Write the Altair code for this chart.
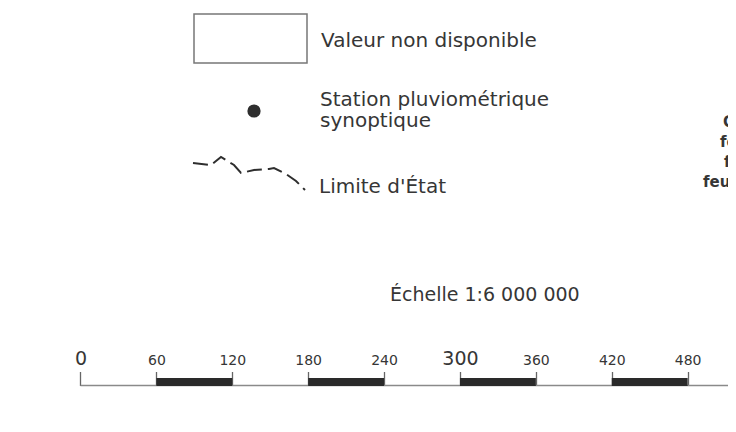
import altair as alt
import pandas as pd

W, H = 720, 416
FONT = "DejaVu Sans"
INK = "#363636"

# ---- data -------------------------------------------------------------
scale_ticks = [0, 60, 120, 180, 240, 300, 360, 420, 480]      # km
bar_start = [60, 180, 300, 420]                                 # black segments
bar_end = [120, 240, 360, 480]
scale_origin = [0]
scale_title = "Échelle 1:6 000 000"
km_domain = [-57.3, 511.9]                                      # visible span of the bar

legend_labels = ["Valeur non disponible", "Station pluviométrique", "synoptique", "Limite d'État"]
boundary_x = [185, 203, 208, 213, 221, 226, 233, 246, 261, 266, 278, 288, 297]
boundary_y = [155, 157, 153, 149, 154, 157, 165, 162, 161, 160, 166, 173, 182]
side_fragments = ["C", "fe", "f", "feui"]

one = alt.Data(values=[{}])
px_x = alt.Scale(domain=[0, W], range=[0, W], nice=False, zero=False)
px_y = alt.Scale(domain=[0, H], range=[0, H], nice=False, zero=False)
km = alt.Scale(domain=km_domain, nice=False, zero=False)


def label(text, x, y, size=20, weight="normal", color=INK):
    return alt.Chart(one).mark_text(
        text=text, font=FONT, fontSize=size, fontWeight=weight, color=color,
        align="left", baseline="alphabetic"
    ).encode(x=alt.value(x), y=alt.value(y))


# ---- legend -----------------------------------------------------------
box = alt.Chart(one).mark_rect(fill="white", stroke="#777777", strokeWidth=1.5).encode(
    x=alt.value(186), x2=alt.value(299), y=alt.value(6), y2=alt.value(55)
)
dot = alt.Chart(one).mark_point(filled=True, shape="circle", size=175, color="#2e2e2e", opacity=1).encode(
    x=alt.value(246), y=alt.value(103)
)
bdf = pd.DataFrame({"x": boundary_x, "y": boundary_y, "o": list(range(len(boundary_x)))})
boundary = alt.Chart(bdf).mark_line(color="#2e2e2e", strokeWidth=2, strokeDash=[15, 6]).encode(
    x=alt.X("x:Q", scale=px_x, axis=None),
    y=alt.Y("y:Q", scale=px_y, axis=None),
    order="o:O",
)

texts = [
    label(legend_labels[0], 313, 38.5),
    label(legend_labels[1], 312, 97.5),
    label(legend_labels[2], 312, 118.5),
    label(legend_labels[3], 311, 185),
    label(scale_title, 382, 293, size=19),
    label(side_fragments[0], 715, 119, size=15, weight="bold"),
    label(side_fragments[1], 712, 139, size=15, weight="bold"),
    label(side_fragments[2], 716, 159, size=15, weight="bold"),
    label(side_fragments[3], 695, 179, size=15, weight="bold"),
]

# ---- scale bar --------------------------------------------------------
baseline = alt.Chart(pd.DataFrame({"a": scale_origin})).mark_rule(color="#8a8a8a", strokeWidth=1.3).encode(
    x=alt.X("a:Q", scale=km, axis=None),
    x2=alt.value(W),
    y=alt.value(377.5),
)
segs = pd.DataFrame({"a": bar_start, "b": bar_end})
bars = alt.Chart(segs).mark_rect(color="#2a2a2a").encode(
    x=alt.X("a:Q", scale=km,
            axis=alt.Axis(
                orient="top", values=scale_ticks, offset=-377.5, domain=False, grid=False,
                title=None, tickSize=14, tickColor="#666666", tickWidth=1.3,
                labelFont=FONT, labelColor=INK, labelPadding=7,
                labelFontSize={"condition": {"test": "datum.value == 0 || datum.value == 300", "value": 19}, "value": 14},
                labelBaseline="alphabetic", labelFlush=False, labelOverlap=False,
            )),
    x2="b:Q",
    y=alt.value(370),
    y2=alt.value(378),
)

chart = alt.layer(box, dot, boundary, *texts, baseline, bars).resolve_scale(
    x="independent", y="independent"
).properties(
    width=W, height=H, padding=0, autosize=alt.AutoSizeParams(type="none"), background="white"
).configure_view(stroke=None)

chart.save("out.html", embed_options={"renderer": "svg", "actions": False})
